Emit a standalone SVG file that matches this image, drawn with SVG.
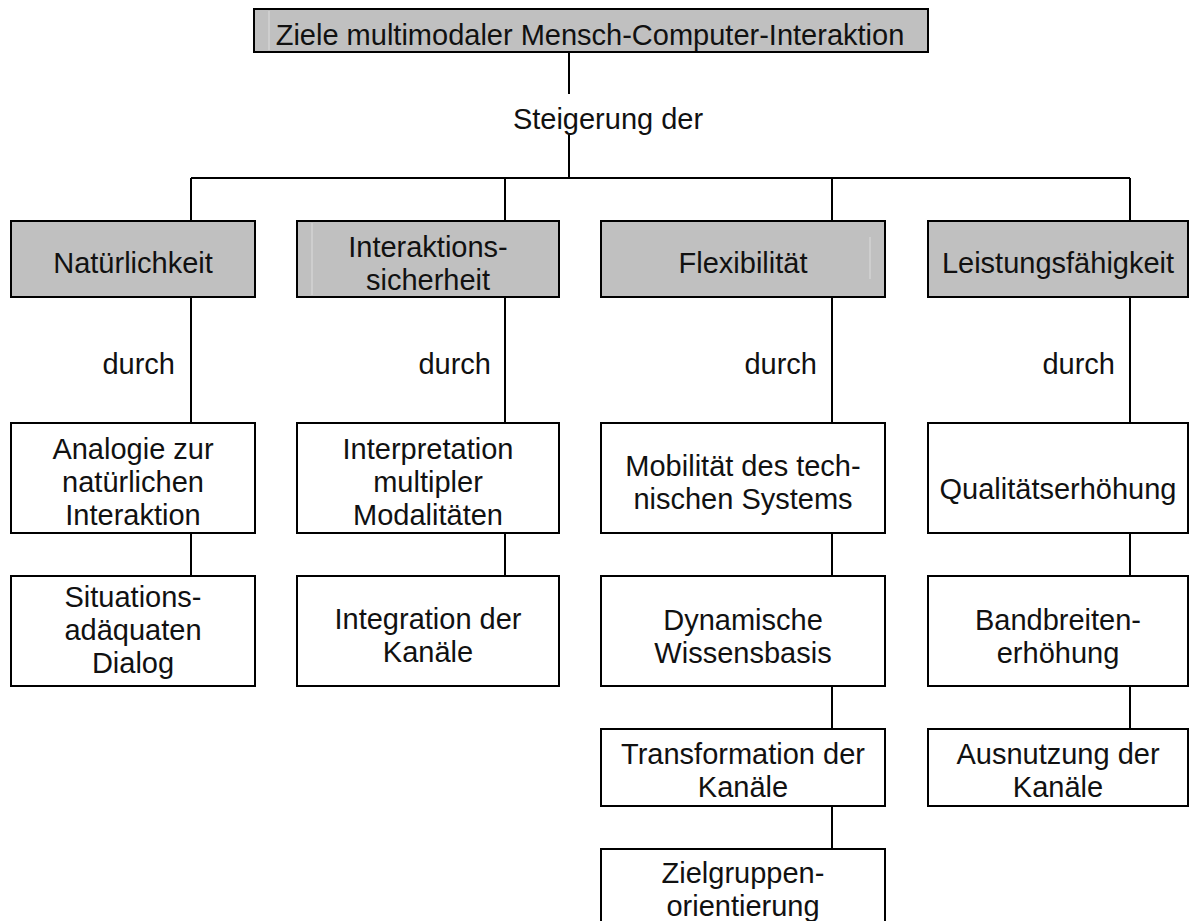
<svg xmlns="http://www.w3.org/2000/svg" width="1199" height="921" viewBox="0 0 1199 921">
  <style>
    .box { fill: #ffffff; stroke: #000000; stroke-width: 2; }
    .head { fill: #c0c0c0; stroke: #000000; stroke-width: 2; }
    .seam { stroke: #dcdcdc; stroke-width: 1; }
    .wire { fill: none; stroke: #000000; stroke-width: 2; }
    text { font-family: "Liberation Sans", Arial, sans-serif; font-size: 29px; fill: #111111; text-anchor: middle; }
    .lbl { text-anchor: end; }
  </style>
  <rect width="1199" height="921" fill="#ffffff"/>

  <!-- connectors -->
  <g id="connectors">
    <path class="wire" d="M569 52 V94 M569 134 V178 M191 178 H1130"/>
    <path class="wire" d="M191 178 V221 M505 178 V221 M832 178 V221 M1130 178 V221"/>
    <path class="wire" d="M191 297 V423 M505 297 V423 M832 297 V423 M1130 297 V423"/>
    <path class="wire" d="M191 533 V576 M505 533 V576 M832 533 V576 M1130 533 V576"/>
    <path class="wire" d="M832 686 V729 M1130 686 V729 M832 806 V849"/>
    <text x="608" y="129">Steigerung der</text>
    <text class="lbl" x="175" y="374">durch</text>
    <text class="lbl" x="491" y="374">durch</text>
    <text class="lbl" x="817" y="374">durch</text>
    <text class="lbl" x="1115" y="374">durch</text>
  </g>

  <!-- root -->
  <g id="ziele">
    <rect class="head" x="254" y="9" width="674" height="43"/>
    <line class="seam" x1="269" y1="11" x2="269" y2="50"/>
    <text x="590" y="45">Ziele multimodaler Mensch-Computer-Interaktion</text>
  </g>

  <!-- goals -->
  <g id="natuerlichkeit">
    <rect class="head" x="11" y="221" width="244" height="76"/>
    <text x="133" y="273">Natürlichkeit</text>
  </g>
  <g id="interaktionssicherheit">
    <rect class="head" x="297" y="221" width="262" height="76"/>
    <line class="seam" x1="312" y1="223" x2="312" y2="295"/>
    <text x="428" y="257">Interaktions-</text>
    <text x="428" y="290">sicherheit</text>
  </g>
  <g id="flexibilitaet">
    <rect class="head" x="601" y="221" width="284" height="76"/>
    <line class="seam" x1="870" y1="237" x2="870" y2="279"/>
    <text x="743" y="273">Flexibilität</text>
  </g>
  <g id="leistungsfaehigkeit">
    <rect class="head" x="928" y="221" width="260" height="76"/>
    <text x="1058" y="273">Leistungsfähigkeit</text>
  </g>

  <!-- means: Natürlichkeit -->
  <g id="analogie">
    <rect class="box" x="11" y="423" width="244" height="110"/>
    <text x="133" y="459">Analogie zur</text>
    <text x="133" y="492">natürlichen</text>
    <text x="133" y="525">Interaktion</text>
  </g>
  <g id="dialog">
    <rect class="box" x="11" y="576" width="244" height="110"/>
    <text x="133" y="607">Situations-</text>
    <text x="133" y="640">adäquaten</text>
    <text x="133" y="673">Dialog</text>
  </g>

  <!-- means: Interaktionssicherheit -->
  <g id="interpretation">
    <rect class="box" x="297" y="423" width="262" height="110"/>
    <text x="428" y="459">Interpretation</text>
    <text x="428" y="492">multipler</text>
    <text x="428" y="525">Modalitäten</text>
  </g>
  <g id="integration">
    <rect class="box" x="297" y="576" width="262" height="110"/>
    <text x="428" y="629">Integration der</text>
    <text x="428" y="662">Kanäle</text>
  </g>

  <!-- means: Flexibilität -->
  <g id="mobilitaet">
    <rect class="box" x="601" y="423" width="284" height="110"/>
    <text x="743" y="476">Mobilität des tech-</text>
    <text x="743" y="509">nischen Systems</text>
  </g>
  <g id="wissensbasis">
    <rect class="box" x="601" y="576" width="284" height="110"/>
    <text x="743" y="630">Dynamische</text>
    <text x="743" y="663">Wissensbasis</text>
  </g>
  <g id="transformation">
    <rect class="box" x="601" y="729" width="284" height="77"/>
    <text x="743" y="764">Transformation der</text>
    <text x="743" y="797">Kanäle</text>
  </g>
  <g id="zielgruppen">
    <rect class="box" x="601" y="849" width="284" height="76"/>
    <text x="743" y="883">Zielgruppen-</text>
    <text x="743" y="916">orientierung</text>
  </g>

  <!-- means: Leistungsfähigkeit -->
  <g id="qualitaet">
    <rect class="box" x="928" y="423" width="260" height="110"/>
    <text x="1058" y="499">Qualitätserhöhung</text>
  </g>
  <g id="bandbreite">
    <rect class="box" x="928" y="576" width="260" height="110"/>
    <text x="1058" y="630">Bandbreiten-</text>
    <text x="1058" y="663">erhöhung</text>
  </g>
  <g id="ausnutzung">
    <rect class="box" x="928" y="729" width="260" height="77"/>
    <text x="1058" y="764">Ausnutzung der</text>
    <text x="1058" y="797">Kanäle</text>
  </g>
</svg>
